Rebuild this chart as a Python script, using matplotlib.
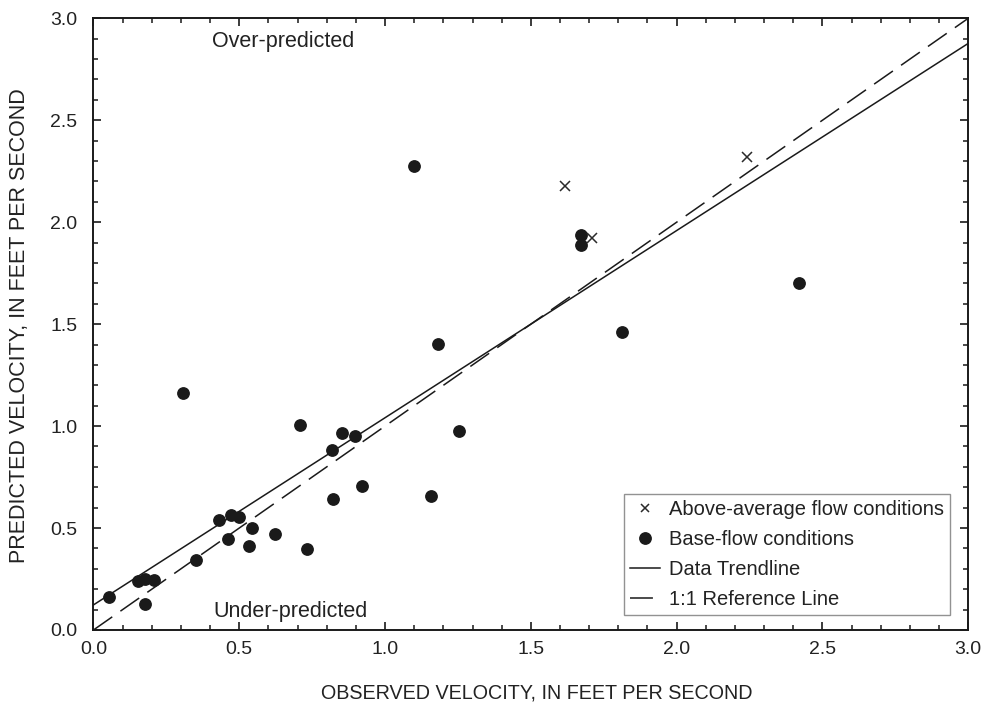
import matplotlib
matplotlib.use("Agg")
import matplotlib.pyplot as plt
from matplotlib.ticker import MultipleLocator
from matplotlib.lines import Line2D
import numpy as np

plt.rcParams['font.family'] = ['Liberation Sans', 'DejaVu Sans']

# Base-flow conditions (observed, predicted)
base_obs = [0.053, 0.153, 0.177, 0.208, 0.177, 0.353, 0.431, 0.471, 0.500, 0.462,
            0.544, 0.532, 0.621, 0.731, 0.821, 0.921, 1.156, 1.100, 1.181, 0.708,
            0.853, 0.897, 0.818, 1.254, 0.308, 1.671, 1.671, 1.811, 2.420]
base_pred = [0.163, 0.241, 0.249, 0.244, 0.125, 0.342, 0.541, 0.562, 0.553, 0.444,
             0.502, 0.414, 0.472, 0.399, 0.641, 0.707, 0.658, 2.278, 1.404, 1.006,
             0.966, 0.949, 0.883, 0.977, 1.161, 1.937, 1.888, 1.463, 1.702]

# Above-average flow conditions
high_obs = [1.617, 1.711, 2.241]
high_pred = [2.177, 1.921, 2.320]

# Trendline coefficients (intercept, slope) and axis range
trend_intercept = 0.123
trend_slope = 0.918
axis_range = [0.0, 3.0]

DARK = '#1a1a1a'
TXT = '#222222'

fig = plt.figure(figsize=(9.86, 7.12), dpi=100)
ax = fig.add_axes([0.0948, 0.1152, 0.982 - 0.0948, 0.9743 - 0.1152])

xs = np.array(axis_range)
ax.plot(xs, trend_intercept + trend_slope * xs, color=DARK, lw=1.1, zorder=2)
ax.plot(xs, xs, color=DARK, lw=1.1, dashes=(15, 6.5), zorder=2)

ax.plot(base_obs, base_pred, 'o', color=DARK, ms=8.2, mec=DARK, zorder=3)
ax.plot(high_obs, high_pred, 'x', color='#2a2a2a', ms=6.5, mew=1.1, zorder=3)

ax.set_xlim(axis_range)
ax.set_ylim(axis_range)
for a in (ax.xaxis, ax.yaxis):
    a.set_major_locator(MultipleLocator(0.5))
    a.set_minor_locator(MultipleLocator(0.1))
ax.xaxis.set_major_formatter(plt.FuncFormatter(lambda v, p: f"{v:.1f}"))
ax.yaxis.set_major_formatter(plt.FuncFormatter(lambda v, p: f"{v:.1f}"))
ax.tick_params(which='both', direction='in', top=True, right=True, colors=DARK,
               labelcolor=TXT, labelsize=14)
ax.tick_params(which='major', length=6, width=1.2)
ax.tick_params(which='minor', length=3.6, width=1.1)
ax.tick_params(axis='x', which='major', pad=8)
ax.tick_params(axis='y', which='major', pad=11.5)
for s in ax.spines.values():
    s.set_linewidth(1.4)
    s.set_color(DARK)

W, H = 874.8, 611.7
ax.set_xlabel('OBSERVED VELOCITY, IN FEET PER SECOND', fontsize=14.2, color=TXT)
ax.set_ylabel('PREDICTED VELOCITY, IN FEET PER SECOND', fontsize=15.5, color=TXT)
ax.xaxis.set_label_coords((537 - 93.5) / W, (630 - 684) / H)
ax.yaxis.set_label_coords((30 - 93.5) / W, (630 - 326) / H)

ax.text(0.65, 2.885, 'Over-predicted', fontsize=15.5, ha='center', va='center', color=TXT)
ax.text(0.674, 0.093, 'Under-predicted', fontsize=15.5, ha='center', va='center', color=TXT)

handles = [
    Line2D([], [], ls='none', marker='x', color='#2a2a2a', ms=6.0, mew=1.1),
    Line2D([], [], ls='none', marker='o', color=DARK, ms=8.2),
    Line2D([], [], color=DARK, lw=1.1),
    Line2D([], [], color=DARK, lw=1.1, dashes=(15, 6.5)),
]
labels = ['Above-average flow conditions', 'Base-flow conditions',
          'Data Trendline', '1:1 Reference Line']
leg = ax.legend(handles, labels, loc='lower right', bbox_to_anchor=(0.9795, 0.0245),
                fontsize=14.5, frameon=True, fancybox=False, edgecolor='#777777',
                handlelength=1.5, handletextpad=0.45, borderpad=0.3, labelspacing=0.54,
                borderaxespad=0)
leg.get_frame().set_linewidth(1.0)
for t in leg.get_texts():
    t.set_color(TXT)

fig.savefig('out.png', dpi=100)
